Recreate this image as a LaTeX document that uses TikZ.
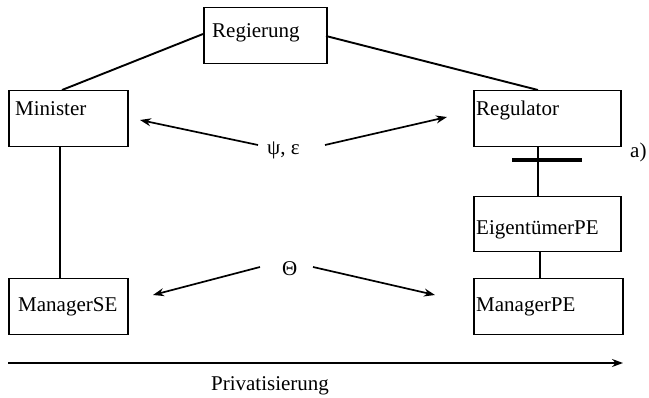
\documentclass[tikz,border=0pt]{standalone}
\usepackage{fontspec}
\setmainfont{Liberation Serif}
\usetikzlibrary{arrows.meta}
\begin{document}
\begin{tikzpicture}[x=1pt,y=-1pt,
  box/.style={draw,line width=1.5pt,inner sep=0pt,anchor=north west},
  lbl/.style={anchor=west,inner sep=0pt,font=\fontsize{21}{24}\selectfont},
  conn/.style={line width=1.9pt},
  arr/.style={line width=1.7pt,-{Stealth[length=11pt,width=8pt]}}]
\useasboundingbox (0,0) rectangle (649,398);
% boxes
\node[box,minimum width=123pt,minimum height=56pt] (reg) at (203,7) {};
\node[box,minimum width=119pt,minimum height=56pt] (min) at (8,90) {};
\node[box,minimum width=147pt,minimum height=56pt] (rgl) at (473,90) {};
\node[box,minimum width=147pt,minimum height=55pt] (eig) at (473,196) {};
\node[box,minimum width=149pt,minimum height=56pt] (mpe) at (473,278) {};
\node[box,minimum width=119pt,minimum height=56pt] (mse) at (8,278) {};
% labels
\node[lbl] (treg) at (212,33) {Regierung};
\node[lbl] (tmin) at (15,109) {Minister};
\node[lbl] (trgl) at (476,110) {Regulator};
\node[lbl] (teig) at (476,230) {EigentümerPE};
\node[lbl] (tmpe) at (476,307) {ManagerPE};
\node[lbl] (tmse) at (18,307) {ManagerSE};
\node[lbl] (psi) at (267,150) {ψ, ε};
\node[lbl] (theta) at (282,269) {Θ};
\node[lbl] (a) at (630,152) {a)};
\node[lbl,anchor=center] (priv) at (270,386) {Privatisierung};
% connectors
\coordinate (r1) at (203,34);
\coordinate (r2) at (326,36);
\coordinate (m1) at (62,90);
\coordinate (g1) at (538,90);
\draw[conn] (r1) -- (m1);
\draw[conn] (r2) -- (g1);
\draw[conn] (min.south -| 60,0) -- (mse.north -| 60,0);
\draw[conn] (rgl.south -| 538,0) -- (eig.north -| 538,0);
\draw[line width=3.5pt] (512,160) coordinate (c1) -- (582,160) coordinate (c2);
\draw[conn] (eig.south -| 540,0) -- (mpe.north -| 540,0);
% arrows
\coordinate (p1) at (258,145);
\coordinate (p2) at (140,120);
\coordinate (p3) at (325,145);
\coordinate (p4) at (447,117);
\draw[arr] (p1) -- (p2);
\draw[arr] (p3) -- (p4);
\coordinate (t1) at (260,267);
\coordinate (t2) at (153,295);
\coordinate (t3) at (313,267);
\coordinate (t4) at (435,295);
\draw[arr] (t1) -- (t2);
\draw[arr] (t3) -- (t4);
\coordinate (x1) at (8,363);
\coordinate (x2) at (623,363);
\draw[arr] (x1) -- (x2);
\end{tikzpicture}
\end{document}
